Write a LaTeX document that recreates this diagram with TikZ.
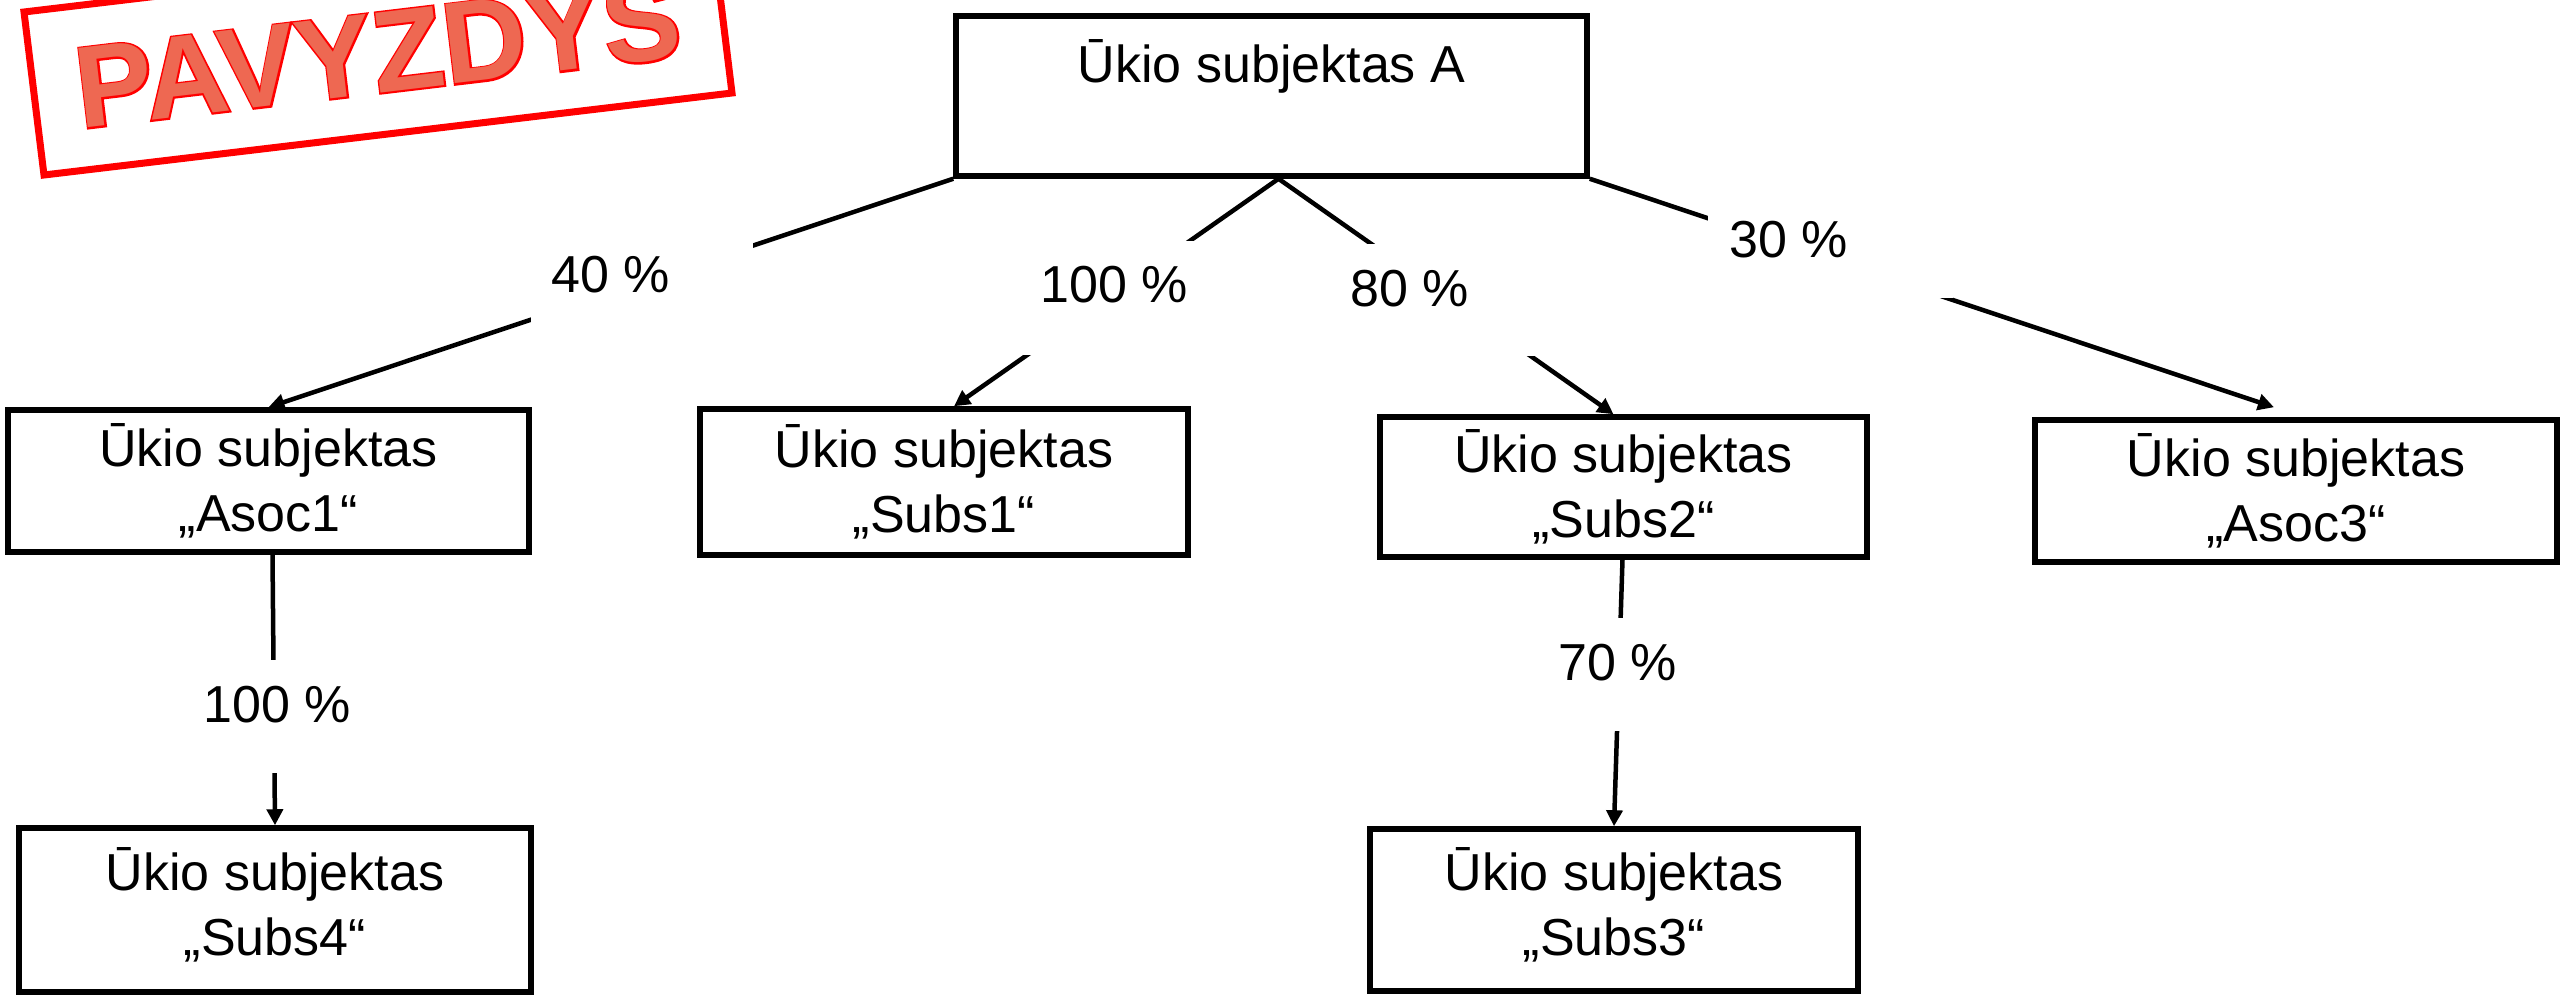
\documentclass[tikz,border=0pt]{standalone}
\usepackage{fontspec}
\setmainfont{Liberation Sans}
\newfontfamily\stampbold[FakeBold=3]{Liberation Sans Bold}
\newfontfamily\stampplain{Liberation Sans Bold}
\usetikzlibrary{arrows.meta,calc}
\definecolor{stampred}{RGB}{255,0,0}
\definecolor{stampfill}{RGB}{238,104,82}
\tikzset{
  box/.style={draw=black, line width=0.55mm, inner sep=0pt, align=center,
     font=\fontsize{14.8}{18.5}\selectfont},
  conn/.style={draw=black, line width=0.45mm, -{Triangle[length=1.6mm,width=1.6mm]}},
  mask/.style={fill=white, draw=none, inner sep=0pt},
  pct/.style={inner sep=0pt, font=\fontsize{14.8}{18.5}\selectfont},
  stampword/.style={rotate=6.8, inner sep=0pt},
}
\begin{document}
\begin{tikzpicture}[x=0.1mm, y=-0.1mm]
\useasboundingbox (0,0) rectangle (2560,995);

% stamp
\draw[stampred, line width=0.7mm] (24,12) -- (44,175) -- (732,93) -- (712,-70) -- cycle;
\node[stampword, text=stampred, font=\stampbold\fontsize{33}{33}\selectfont] (stampo) at (378,53) {PAVYZDYS};
\node[stampword, text=stampfill, font=\stampplain\fontsize{33}{33}\selectfont] (stampt) at (378,53) {PAVYZDYS};

% boxes
\node[box, minimum width=63.1mm, minimum height=16mm, text height=4mm, text depth=6.8mm] (A) at (1271.5,96) {Ūkio subjektas A};
\node[box, minimum width=52.1mm, minimum height=14.2mm] (asoc1) at (268.5,481) {Ūkio subjektas\\„Asoc1“};
\node[box, minimum width=48.8mm, minimum height=14.6mm] (subs1) at (944,482) {Ūkio subjektas\\„Subs1“};
\node[box, minimum width=48.7mm, minimum height=14mm] (subs2) at (1623.5,487) {Ūkio subjektas\\„Subs2“};
\node[box, minimum width=52.2mm, minimum height=14.2mm] (asoc3) at (2296,491) {Ūkio subjektas\\„Asoc3“};
\node[box, minimum width=51.2mm, minimum height=16.4mm, text depth=1.7mm] (subs4) at (275,910) {Ūkio subjektas\\„Subs4“};
\node[box, minimum width=48.8mm, minimum height=16.2mm, text depth=1.7mm] (subs3) at (1614,910) {Ūkio subjektas\\„Subs3“};

% connectors
\draw[conn] (A.south west) -- (asoc1.north);
\draw[conn] ($(A.south)+(7,0)$) -- ($(subs1.north)+(10,0)$);
\draw[conn] ($(A.south)+(7,0)$) -- ($(subs2.north)+(-10,0)$);
\draw[conn] (A.south east) -- ($(asoc3.north)+(-22,-10)$);
\draw[conn] ($(asoc1.south)+(4,0)$) -- (subs4.north);
\draw[conn] ($(subs2.south)+(-1,0)$) -- (subs3.north);

% label backgrounds
\node[mask, minimum width=22.2mm, minimum height=8.8mm] (m40) at (642,282) {};
\node[mask, minimum width=18.1mm, minimum height=11.4mm] (m100a) at (1110,298) {};
\node[mask, minimum width=20.9mm, minimum height=11.2mm] (m80) at (1435,300) {};
\node[mask, minimum width=24.5mm, minimum height=9.3mm] (m30) at (1830.5,251.5) {};
\node[mask, minimum width=18.8mm, minimum height=11.3mm] (m100b) at (276,716.5) {};
\node[mask, minimum width=16mm, minimum height=11.3mm] (m70) at (1618,674.5) {};

% labels
\node[pct] (l40) at (611,275) {40 \%};
\node[pct] (l100a) at (1114,285) {100 \%};
\node[pct] (l80) at (1410,289) {80 \%};
\node[pct] (l30) at (1789,240) {30 \%};
\node[pct] (l100b) at (277,705) {100 \%};
\node[pct] (l70) at (1618,663) {70 \%};
\end{tikzpicture}
\end{document}
